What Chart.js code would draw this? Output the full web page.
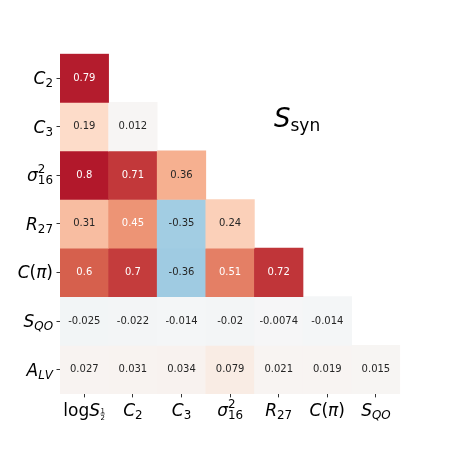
<!DOCTYPE html>
<html><head><meta charset="utf-8">
<script src="https://cdn.jsdelivr.net/npm/chart.js@4"></script>
<style>html,body{margin:0;padding:0;background:#fff;}canvas{display:block}</style>
</head><body>
<canvas id="c" width="449" height="449"></canvas>
<script>
// ---- data ----
const colLabels = ['\\log S_{\\frac{1}{2}}', 'C_{2}', 'C_{3}', 'σ^{2}_{16}', 'R_{27}', 'C(π)', 'S_{QO}'];
const rowLabels = ['C_{2}', 'C_{3}', 'σ^{2}_{16}', 'R_{27}', 'C(π)', 'S_{QO}', 'A_{LV}'];
const rowC2   = [0.79];
const rowC3   = [0.19, 0.012];
const rowSig  = [0.8, 0.71, 0.36];
const rowR27  = [0.31, 0.45, -0.35, 0.24];
const rowCpi  = [0.6, 0.7, -0.36, 0.51, 0.72];
const rowSQO  = [-0.025, -0.022, -0.014, -0.02, -0.0074, -0.014];
const rowALV  = [0.027, 0.031, 0.034, 0.079, 0.021, 0.019, 0.015];
const titleMain = 'S';
const titleSub = 'syn';
const rows = [rowC2, rowC3, rowSig, rowR27, rowCpi, rowSQO, rowALV];

// ---- RdBu_r colormap, vmin -1, vmax 1 ----
const stops = ['#053061','#2166ac','#4393c3','#92c5de','#d1e5f0','#f7f7f7','#fddbc7','#f4a582','#d6604d','#b2182b','#67001f']
  .map(h => [parseInt(h.slice(1,3),16), parseInt(h.slice(3,5),16), parseInt(h.slice(5,7),16)]);
function cmapRGB(v){
  let t = Math.min(1, Math.max(0, (v + 1) / 2)) * 10;
  let i = Math.min(9, Math.floor(t)); const f = t - i;
  return stops[i].map((a, k) => a + (stops[i+1][k] - a) * f);
}
function cmap(v){ const c = cmapRGB(v); return `rgb(${c[0].toFixed(0)},${c[1].toFixed(0)},${c[2].toFixed(0)})`; }
function textColor(v){
  const lin = cmapRGB(v).map(x => { x /= 255; return x <= 0.03928 ? x / 12.92 : Math.pow((x + 0.055) / 1.055, 2.4); });
  const lum = 0.2126*lin[0] + 0.7152*lin[1] + 0.0722*lin[2];
  return lum > 0.408 ? '#262626' : '#ffffff';
}
function fmt(v){ return String(Number(v.toPrecision(2))); }

// ---- tiny math text renderer ----
const FAM = '"DejaVu Sans"';
function parseMath(s){
  const atoms = []; let i = 0;
  function readGroup(){
    if (s[i] === '{'){ let d = 1, j = i + 1; while (d){ if (s[j] === '{') d++; else if (s[j] === '}') d--; j++; } const g = s.slice(i+1, j-1); i = j; return g; }
    return s[i++];
  }
  while (i < s.length){
    const ch = s[i];
    if (s.startsWith('\\log', i)){ atoms.push({t:'log', italic:false}); i += 4; continue; }
    if (s.startsWith('\\frac', i)){ i += 5; const n = readGroup(), d = readGroup(); atoms.push({frac:[n, d]}); continue; }
    if (ch === '_' || ch === '^'){ i++; const g = readGroup(); atoms[atoms.length-1][ch === '_' ? 'sub' : 'sup'] = g; continue; }
    if (ch === ' '){ i++; continue; }
    atoms.push({t:ch, italic:/[A-Za-zα-ωΑ-Ω]/.test(ch)}); i++;
  }
  return atoms;
}
function mathText(ctx, src, size, draw, x0, base){
  const atoms = parseMath(src); let x = x0;
  for (const a of atoms){
    if (a.frac){
      const fs = size * 0.58;
      ctx.font = `${fs}px ${FAM}`;
      const w = Math.max(ctx.measureText(a.frac[0]).width, ctx.measureText(a.frac[1]).width) + 1;
      if (draw){
        const ly = base - size * 0.42;
        ctx.textAlign = 'center';
        ctx.fillText(a.frac[0], x + w/2, ly - 0.8);
        ctx.fillText(a.frac[1], x + w/2, ly + 0.8 + fs * 0.73);
        ctx.fillRect(x + 0.5, ly - 0.3, w - 1, 0.6);
        ctx.textAlign = 'left';
      }
      x += w; continue;
    }
    ctx.font = `${a.italic ? 'italic ' : ''}${size}px ${FAM}`;
    const w = ctx.measureText(a.t).width;
    if (draw) ctx.fillText(a.t, x, base);
    x += w;
    if (a.sub || a.sup){
      const ss = size * 0.7; let wm = 0;
      if (a.sup) wm = Math.max(wm, mathText(ctx, a.sup, ss, draw, x, base - size * 0.47));
      if (a.sub) wm = Math.max(wm, mathText(ctx, a.sub, ss, draw, x, base + size * 0.18));
      x += wm;
    }
  }
  return x - x0;
}

// ---- plugins ----
const annotPlugin = {
  id: 'annot',
  afterDatasetsDraw(chart){
    const ctx = chart.ctx; ctx.save();
    ctx.font = `10px ${FAM}`; ctx.textAlign = 'center'; ctx.textBaseline = 'middle';
    chart.data.datasets.forEach((ds, r) => {
      const meta = chart.getDatasetMeta(r);
      rows[r].forEach((v, c) => {
        const el = meta.data[c];
        const p = el.getProps(['x', 'y', 'base'], true);
        ctx.fillStyle = textColor(v);
        ctx.fillText(fmt(v), p.x, (p.y + p.base) / 2);
      });
    });
    ctx.restore();
  }
};
const labelPlugin = {
  id: 'mathLabels',
  afterDraw(chart){
    const ctx = chart.ctx; const xs = chart.scales.x, ys = chart.scales.y, area = chart.chartArea;
    ctx.save(); ctx.fillStyle = '#000'; ctx.textAlign = 'left'; ctx.textBaseline = 'alphabetic';
    const fs = 17;
    colLabels.forEach((lab, i) => {
      const cx = xs.getPixelForTick(i);
      const w = mathText(ctx, lab, fs, false, 0, 0);
      mathText(ctx, lab, fs, true, cx - w/2, area.bottom + 22);
    });
    rowLabels.forEach((lab, i) => {
      const cy = ys.getPixelForTick(i);
      const w = mathText(ctx, lab, fs, false, 0, 0);
      mathText(ctx, lab, fs, true, area.left - 7 - w, cy + 6);
    });
    // title
    const tx = area.left + 0.629 * (area.right - area.left);
    const ty = area.top + 0.2155 * (area.bottom - area.top);
    ctx.font = `italic 26px ${FAM}`;
    ctx.fillText(titleMain, tx, ty);
    const tw = ctx.measureText(titleMain).width;
    ctx.font = `17px ${FAM}`;
    ctx.fillText(titleSub, tx + tw, ty + 4);
    ctx.restore();
  }
};

// ---- chart ----
const datasets = rows.map((vals, r) => ({
  label: 'row' + r,
  data: colLabels.map((_, c) => c < vals.length ? [r, r + 1] : null),
  backgroundColor: colLabels.map((_, c) => c < vals.length ? cmap(vals[c]) : 'rgba(0,0,0,0)'),
  grouped: false, barPercentage: 1, categoryPercentage: 1,
  borderWidth: 0, borderSkipped: false
}));

new Chart(document.getElementById('c'), {
  type: 'bar',
  data: { labels: colLabels, datasets },
  options: {
    responsive: false, animation: false, events: [],
    layout: { padding: { top: 53.7, right: 48.8, left: 0, bottom: 0 } },
    plugins: { legend: { display: false }, tooltip: { enabled: false } },
    scales: {
      x: {
        type: 'category', offset: true,
        grid: { offset: false, drawOnChartArea: false, drawTicks: true, tickLength: 3.5, color: '#000', lineWidth: 0.8 },
        border: { display: false },
        ticks: { display: false },
        afterFit(s){ s.height = 55.1; }
      },
      y: {
        type: 'linear', min: 0, max: 7, reverse: true,
        afterBuildTicks(s){ s.ticks = rowLabels.map((_, i) => ({ value: i + 0.5 })); },
        grid: { drawOnChartArea: false, drawTicks: true, tickLength: 3.5, color: '#000', lineWidth: 0.8 },
        border: { display: false },
        ticks: { display: false },
        afterFit(s){ s.width = 60; }
      }
    }
  },
  plugins: [annotPlugin, labelPlugin]
});
</script>
</body></html>
